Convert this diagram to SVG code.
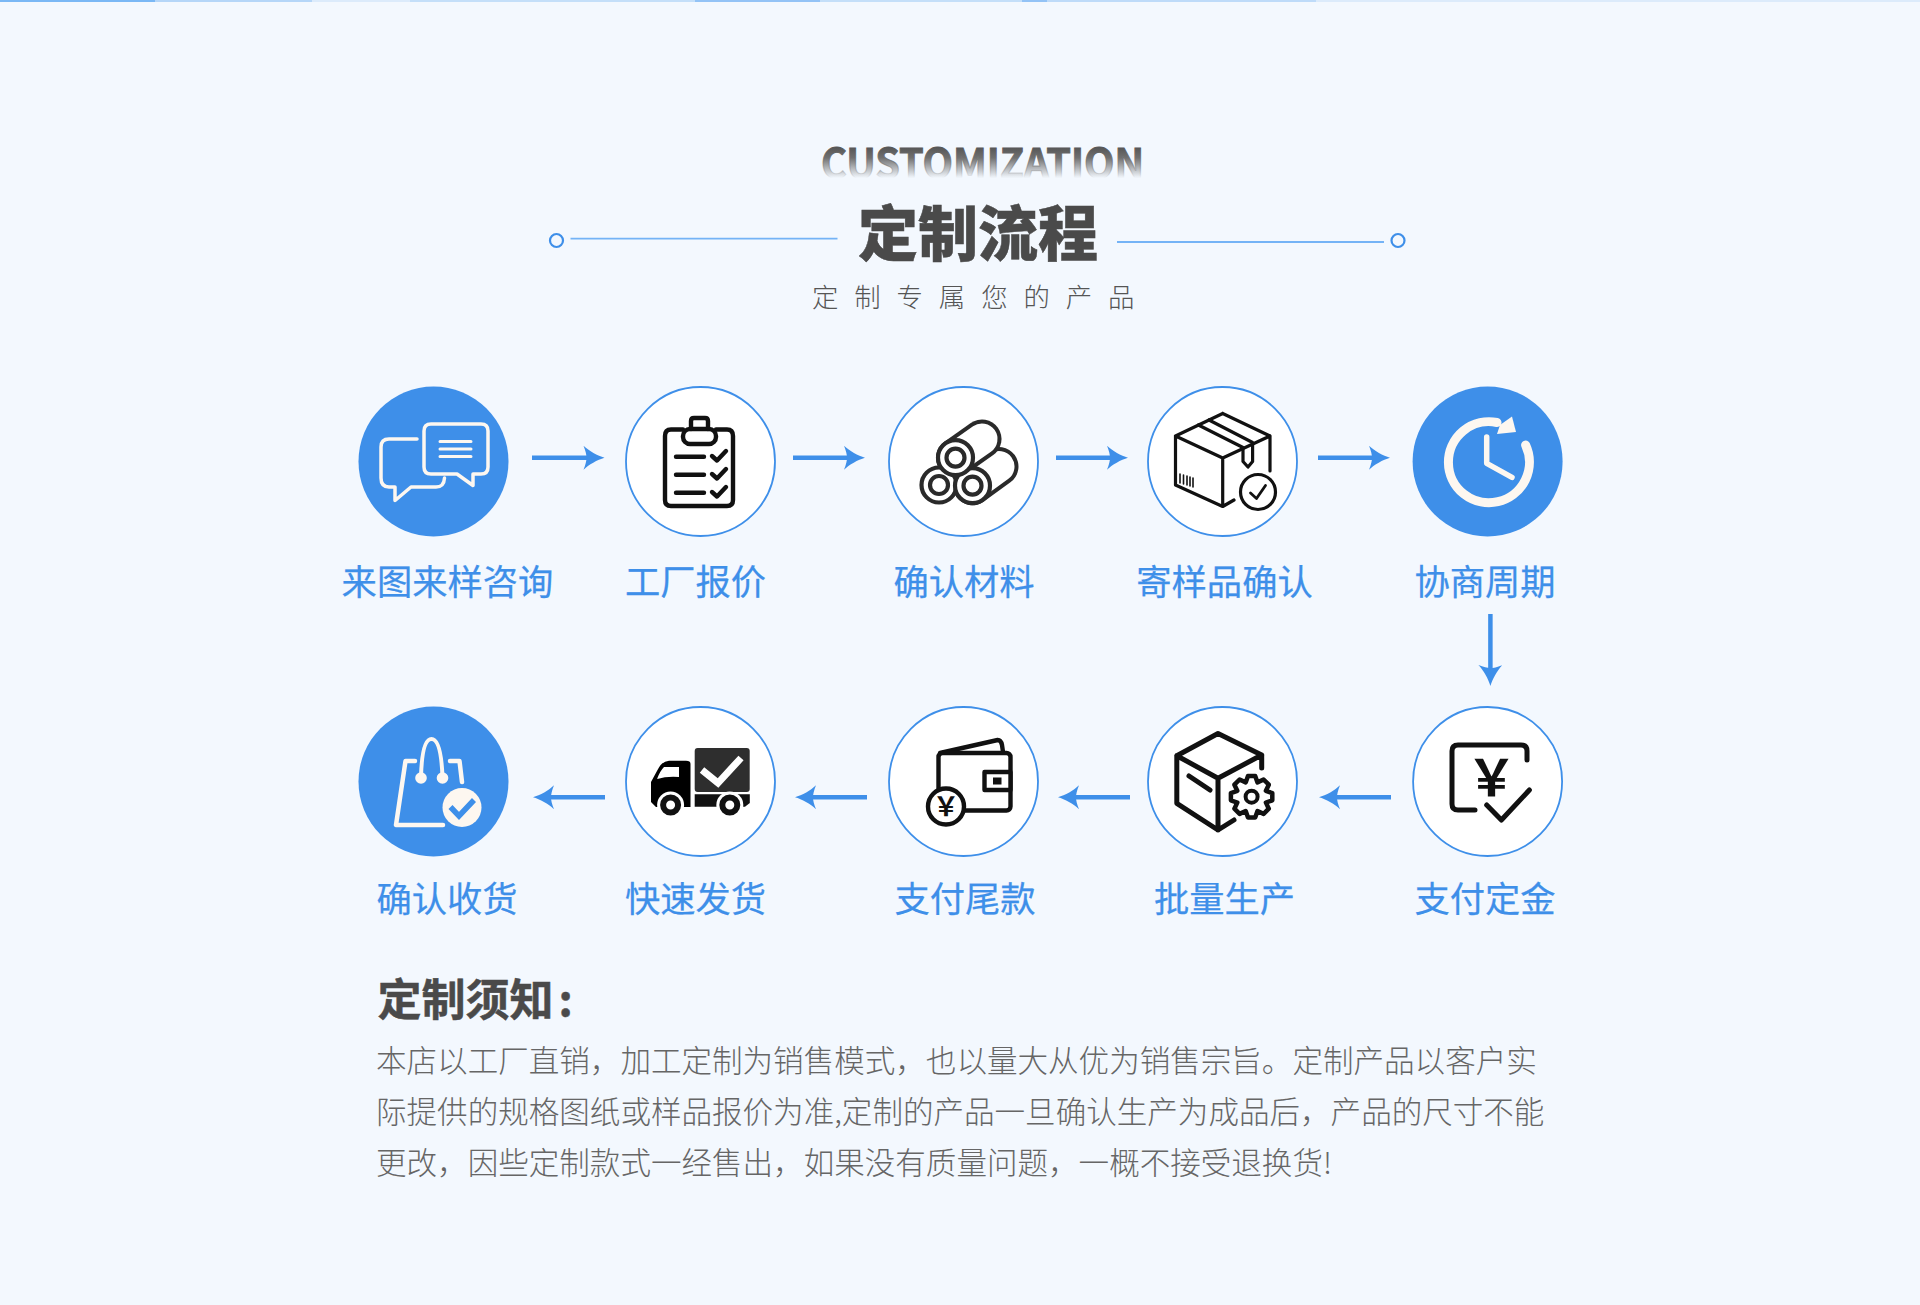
<svg xmlns="http://www.w3.org/2000/svg" width="1920" height="1305" viewBox="0 0 1920 1305">
<style>
text{font-family:"Noto Sans CJK SC","Noto Sans",sans-serif}
.ring{fill:#fff;stroke:#3e8fe9;stroke-width:1.8}
.solid{fill:#3e8fe9}
.label{font-size:35.3px;fill:#3e8fe9;stroke:#3e8fe9;stroke-width:.25;text-anchor:middle;font-weight:400}
.ink{fill:none;stroke:#111;stroke-width:4.4;stroke-linecap:round;stroke-linejoin:round}
.wht{fill:none;stroke:#fdf7f0;stroke-linecap:round;stroke-linejoin:round}
.body{font-size:30.55px;fill:#666;font-weight:300}
.conn{stroke:#3e8fe9;stroke-width:4.5;fill:none;marker-end:url(#head)}
.rule{stroke:#74b3f6;stroke-width:1.8}
.dot{fill:none;stroke:#3e8fe9;stroke-width:2.2}
</style>
<defs>
<marker id="head" markerUnits="userSpaceOnUse" viewBox="0 -12 22 24" refX="7" refY="0" markerWidth="22" markerHeight="24" orient="auto"><path d="M22 0C15 2 6 7 1 12C3 7 4 3 4 0C4 -3 3 -7 1 -12C6 -7 15 -2 22 0Z" fill="#3e8fe9"/></marker>
<linearGradient id="fade" gradientUnits="userSpaceOnUse" x1="0" y1="147" x2="0" y2="178"><stop offset="0" stop-color="#555"/><stop offset=".35" stop-color="#707070"/><stop offset="1" stop-color="#777" stop-opacity="0"/></linearGradient>
</defs>
<rect width="1920" height="1305" fill="#f3f8fe"/>
<g id="top-band">
<rect x="0" y="0" width="155" height="2" fill="#7ab8f5"/><rect x="155" y="0" width="157" height="2" fill="#b5d6f8"/><rect x="312" y="0" width="98" height="2" fill="#dcebfb"/><rect x="410" y="0" width="285" height="2" fill="#c4dff9"/><rect x="695" y="0" width="125" height="2" fill="#93c3f6"/><rect x="820" y="0" width="202" height="2" fill="#c4dff9"/><rect x="1022" y="0" width="25" height="2" fill="#93c3f6"/><rect x="1047" y="0" width="269" height="2" fill="#bedbf9"/><rect x="1316" y="0" width="604" height="2" fill="#dcebfb"/>
</g>
<g id="header">
<text x="821" y="178" font-size="41" font-weight="700" fill="url(#fade)" stroke="url(#fade)" stroke-width="1" textLength="323" lengthAdjust="spacingAndGlyphs">CUSTOMIZATION</text>
<text x="858" y="256" font-size="60" font-weight="900" fill="#4a4a4a" stroke="#4a4a4a" stroke-width=".5">定制流程</text>
<text x="812" y="307" font-size="26.4" font-weight="300" fill="#555" letter-spacing="15.9">定制专属您的产品</text>
<line class="rule" x1="570.5" y1="238.7" x2="837.5" y2="238.7"/><circle class="dot" cx="556.5" cy="240.5" r="6.5"/>
<line class="rule" x1="1117" y1="242" x2="1384" y2="242"/><circle class="dot" cx="1398" cy="240.5" r="6.5"/>
</g>
<g id="connectors">
<line class="conn" x1="532" y1="457.7" x2="589.5" y2="457.7"/>
<line class="conn" x1="793" y1="457.7" x2="850" y2="457.7"/>
<line class="conn" x1="1056" y1="457.7" x2="1113" y2="457.7"/>
<line class="conn" x1="1318" y1="457.7" x2="1375" y2="457.7"/>
<line class="conn" x1="1490.4" y1="614" x2="1490.4" y2="671"/>
<line class="conn" x1="1391" y1="797.3" x2="1334" y2="797.3"/>
<line class="conn" x1="1130" y1="797.3" x2="1073" y2="797.3"/>
<line class="conn" x1="867" y1="797.3" x2="810" y2="797.3"/>
<line class="conn" x1="605" y1="797.3" x2="548" y2="797.3"/>
</g>
<g id="node-1">
<circle class="solid" cx="433.5" cy="461.5" r="75"/>
<path class="wht" stroke-width="3.5" d="M431 424H481Q488 424 488 431V467Q488 474 481 474H473V485.5L457 474H431Q424 474 424 467V431Q424 424 431 424Z"/>
<path class="wht" stroke-width="3.5" d="M417 439H389Q381 439 381 447V478Q381 487 389 487H395V500.5L411 487H436Q444 487 444.5 478"/>
<path class="wht" stroke-width="3" stroke-linecap="butt" d="M440 441.5H471M440 449H471M440 456.5H471"/>
<text class="label" x="447.5" y="595">来图来样咨询</text>
</g>
<g id="node-2">
<circle class="ring" cx="700.5" cy="461.5" r="74.5"/>
<path class="ink" d="M683 429.5H671Q665 429.5 665 436V500Q665 506 671 506H727Q733 506 733 500V436Q733 429.5 727 429.5H716"/>
<rect class="ink" x="683" y="429" width="33" height="15" rx="7"/>
<path class="ink" d="M691 429V421Q691 418 694 418H705Q708 418 708 421V429"/>
<path class="ink" d="M676 456.7H704M676 474.7H704M676 492.7H704"/>
<path class="ink" d="M712 456L717 460.5L726 451M712 474L717 478.5L726 469M712 492L717 496.5L726 487"/>
<text class="label" x="695.5" y="595">工厂报价</text>
</g>
<g id="node-3">
<circle class="ring" cx="963.5" cy="461.5" r="74.5"/>
<g fill="#fff" stroke="#2a2a2a" stroke-width="4.2">
<line x1="972.5" y1="485.7" x2="999" y2="466.5" stroke-width="39" stroke-linecap="round"/><line x1="972.5" y1="485.7" x2="999" y2="466.5" stroke="#fff" stroke-width="31" stroke-linecap="round"/>
<line x1="955.5" y1="457.7" x2="982" y2="439" stroke-width="39" stroke-linecap="round"/><line x1="955.5" y1="457.7" x2="982" y2="439" stroke="#fff" stroke-width="31" stroke-linecap="round"/>
<circle cx="939" cy="485" r="17.5"/><circle cx="939" cy="485" r="9"/>
<circle cx="972.5" cy="485.7" r="17.5"/><circle cx="972.5" cy="485.7" r="9"/>
<circle cx="955.5" cy="457.7" r="17.5"/><circle cx="955.5" cy="457.7" r="9"/>
</g>
<text class="label" x="964" y="595">确认材料</text>
</g>
<g id="node-4">
<circle class="ring" cx="1222.5" cy="461.5" r="74.5"/>
<g class="ink" style="stroke-width:3.2">
<path d="M1222.7 413.5L1270 436V471M1222.7 413.5L1175.5 436L1222.7 458L1270 436M1175.5 436V485L1222.7 506.5L1234 500M1222.7 458V506.5"/>
<path d="M1198.4 425L1243 447.5M1209 420L1252.6 442.5M1243 447.5V461.5L1248 467L1252.6 461.5V442.5"/>
<path style="stroke-width:1.6" d="M1180 474V483M1183.5 475V484M1187 476V485M1190 477V486M1193 478V487"/>
<circle cx="1258" cy="492" r="17.5" fill="#fff"/>
<path style="stroke-width:2.8" d="M1250.5 493L1256.5 498.5L1265.5 485.5"/>
</g>
<text class="label" x="1224.5" y="595">寄样品确认</text>
</g>
<g id="node-5">
<circle class="solid" cx="1487.6" cy="461.5" r="75"/>
<path class="wht" stroke-width="9" stroke-linecap="butt" d="M1525.6 445A40.5 40.5 0 1 1 1497 422.5"/>
<path fill="#fdf7f0" d="M1512 416.5L1516 432L1497 434L1500 425Z"/>
<path class="wht" stroke-width="5.5" d="M1486.7 437V463.3L1512 477.3"/>
<text class="label" x="1485" y="595">协商周期</text>
</g>
<g id="node-6">
<circle class="ring" cx="1487.6" cy="781.5" r="74.5"/>
<path class="ink" style="stroke-width:5" d="M1475 810H1458Q1452 810 1452 804V751Q1452 745 1458 745H1521Q1527 745 1527 751V760"/>
<path class="ink" style="stroke-width:5" d="M1486.7 805L1501.4 820L1529.4 790"/>
<text x="1491.5" y="796" font-size="50" font-weight="700" fill="#111" text-anchor="middle">￥</text>
<text class="label" x="1485" y="912">支付定金</text>
</g>
<g id="node-7">
<circle class="ring" cx="1222.5" cy="781.5" r="74.5"/>
<path class="ink" style="stroke-width:5" d="M1261.7 768V755L1218 733.5L1176.8 755.7V803.3L1218 830L1234 820M1176.8 755.7L1218 778.3L1261.7 755M1218 778.3V830M1189 776L1210 790"/>
<path class="ink" style="fill:#fff;stroke-width:4.5" transform="translate(1251.6 796.7)" d="M20.7 -3.6L20.7 3.6L14.3 5.9L17.2 12L12 17.2L5.9 14.3L3.6 20.7L-3.6 20.7L-5.9 14.3L-12 17.2L-17.2 12L-14.3 5.9L-20.7 3.6L-20.7 -3.6L-14.3 -5.9L-17.2 -12L-12 -17.2L-5.9 -14.3L-3.6 -20.7L3.6 -20.7L5.9 -14.3L12 -17.2L17.2 -12L14.3 -5.9Z"/>
<circle class="ink" style="stroke-width:4" cx="1251.6" cy="796.7" r="6"/>
<text class="label" x="1224.5" y="912">批量生产</text>
</g>
<g id="node-8">
<circle class="ring" cx="963.5" cy="781.5" r="74.5"/>
<path class="ink" d="M940 753L997.7 740Q1001 740 1002 745L1003 752"/>
<rect class="ink" x="938.5" y="753" width="72" height="57.5" rx="4"/>
<rect class="ink" style="fill:#fff" x="984.5" y="772" width="26" height="18"/>
<rect x="993" y="777.5" width="8.5" height="7" fill="#111"/>
<circle class="ink" style="fill:#fff" cx="946" cy="806.5" r="18"/>
<text x="946" y="816" font-size="26" font-weight="700" fill="#111" text-anchor="middle">￥</text>
<text class="label" x="965" y="912">支付尾款</text>
</g>
<g id="node-9">
<circle class="ring" cx="700.5" cy="781.5" r="74.5"/>
<rect x="694.7" y="748" width="55" height="44" rx="3" fill="#2e2e2e"/>
<path d="M702 770L718 783L741 758" fill="none" stroke="#fff" stroke-width="7"/>
<path d="M694.7 794.3H749.8V803L745 806.7H694.7Z" fill="#111"/>
<path d="M690.5 764Q690.5 760.7 686 760.7H669Q662 761 657.5 770L651 782V802L656 807H690.5Z" fill="#000"/>
<path d="M664 767H679V777Q667 776 657 779Q660 771 664 767Z" fill="#fff"/>
<circle cx="670.6" cy="805" r="13.5" fill="#fff"/><circle cx="729.8" cy="805" r="13.5" fill="#fff"/>
<circle cx="670.6" cy="805" r="7.5" fill="#fff" stroke="#111" stroke-width="6"/><circle cx="729.8" cy="805" r="7.5" fill="#fff" stroke="#111" stroke-width="6"/>
<text class="label" x="695.5" y="912">快速发货</text>
</g>
<g id="node-10">
<circle class="solid" cx="433.5" cy="781.5" r="75"/>
<path class="wht" stroke-width="4.5" stroke-linecap="butt" d="M415 761H405.5L396 825H443M450 761H459.5L462 782"/>
<path class="wht" stroke-width="4" d="M421 777Q422 739 431.5 739Q441 739 442.5 777"/>
<circle cx="421" cy="778" r="5.8" fill="#fdf7f0"/><circle cx="442.5" cy="778" r="5.8" fill="#fdf7f0"/>
<circle cx="462" cy="807.5" r="19.5" fill="#fdf7f0"/>
<path d="M450.5 807L459 816L474 800" fill="none" stroke="#3e8fe9" stroke-width="5.5"/>
<text class="label" x="447" y="912">确认收货</text>
</g>
<g id="notice">
<text x="377.5" y="1016" font-size="44" font-weight="700" fill="#4a4a4a" stroke="#4a4a4a" stroke-width=".5">定制须知<tspan dx="5">:</tspan></text>
<text class="body" x="376" y="1072">本店以工厂直销，加工定制为销售模式，也以量大从优为销售宗旨。定制产品以客户实</text>
<text class="body" x="376" y="1123">际提供的规格图纸或样品报价为准,定制的产品一旦确认生产为成品后，产品的尺寸不能</text>
<text class="body" x="376" y="1174">更改，因些定制款式一经售出，如果没有质量问题，一概不接受退换货!</text>
</g>
</svg>
